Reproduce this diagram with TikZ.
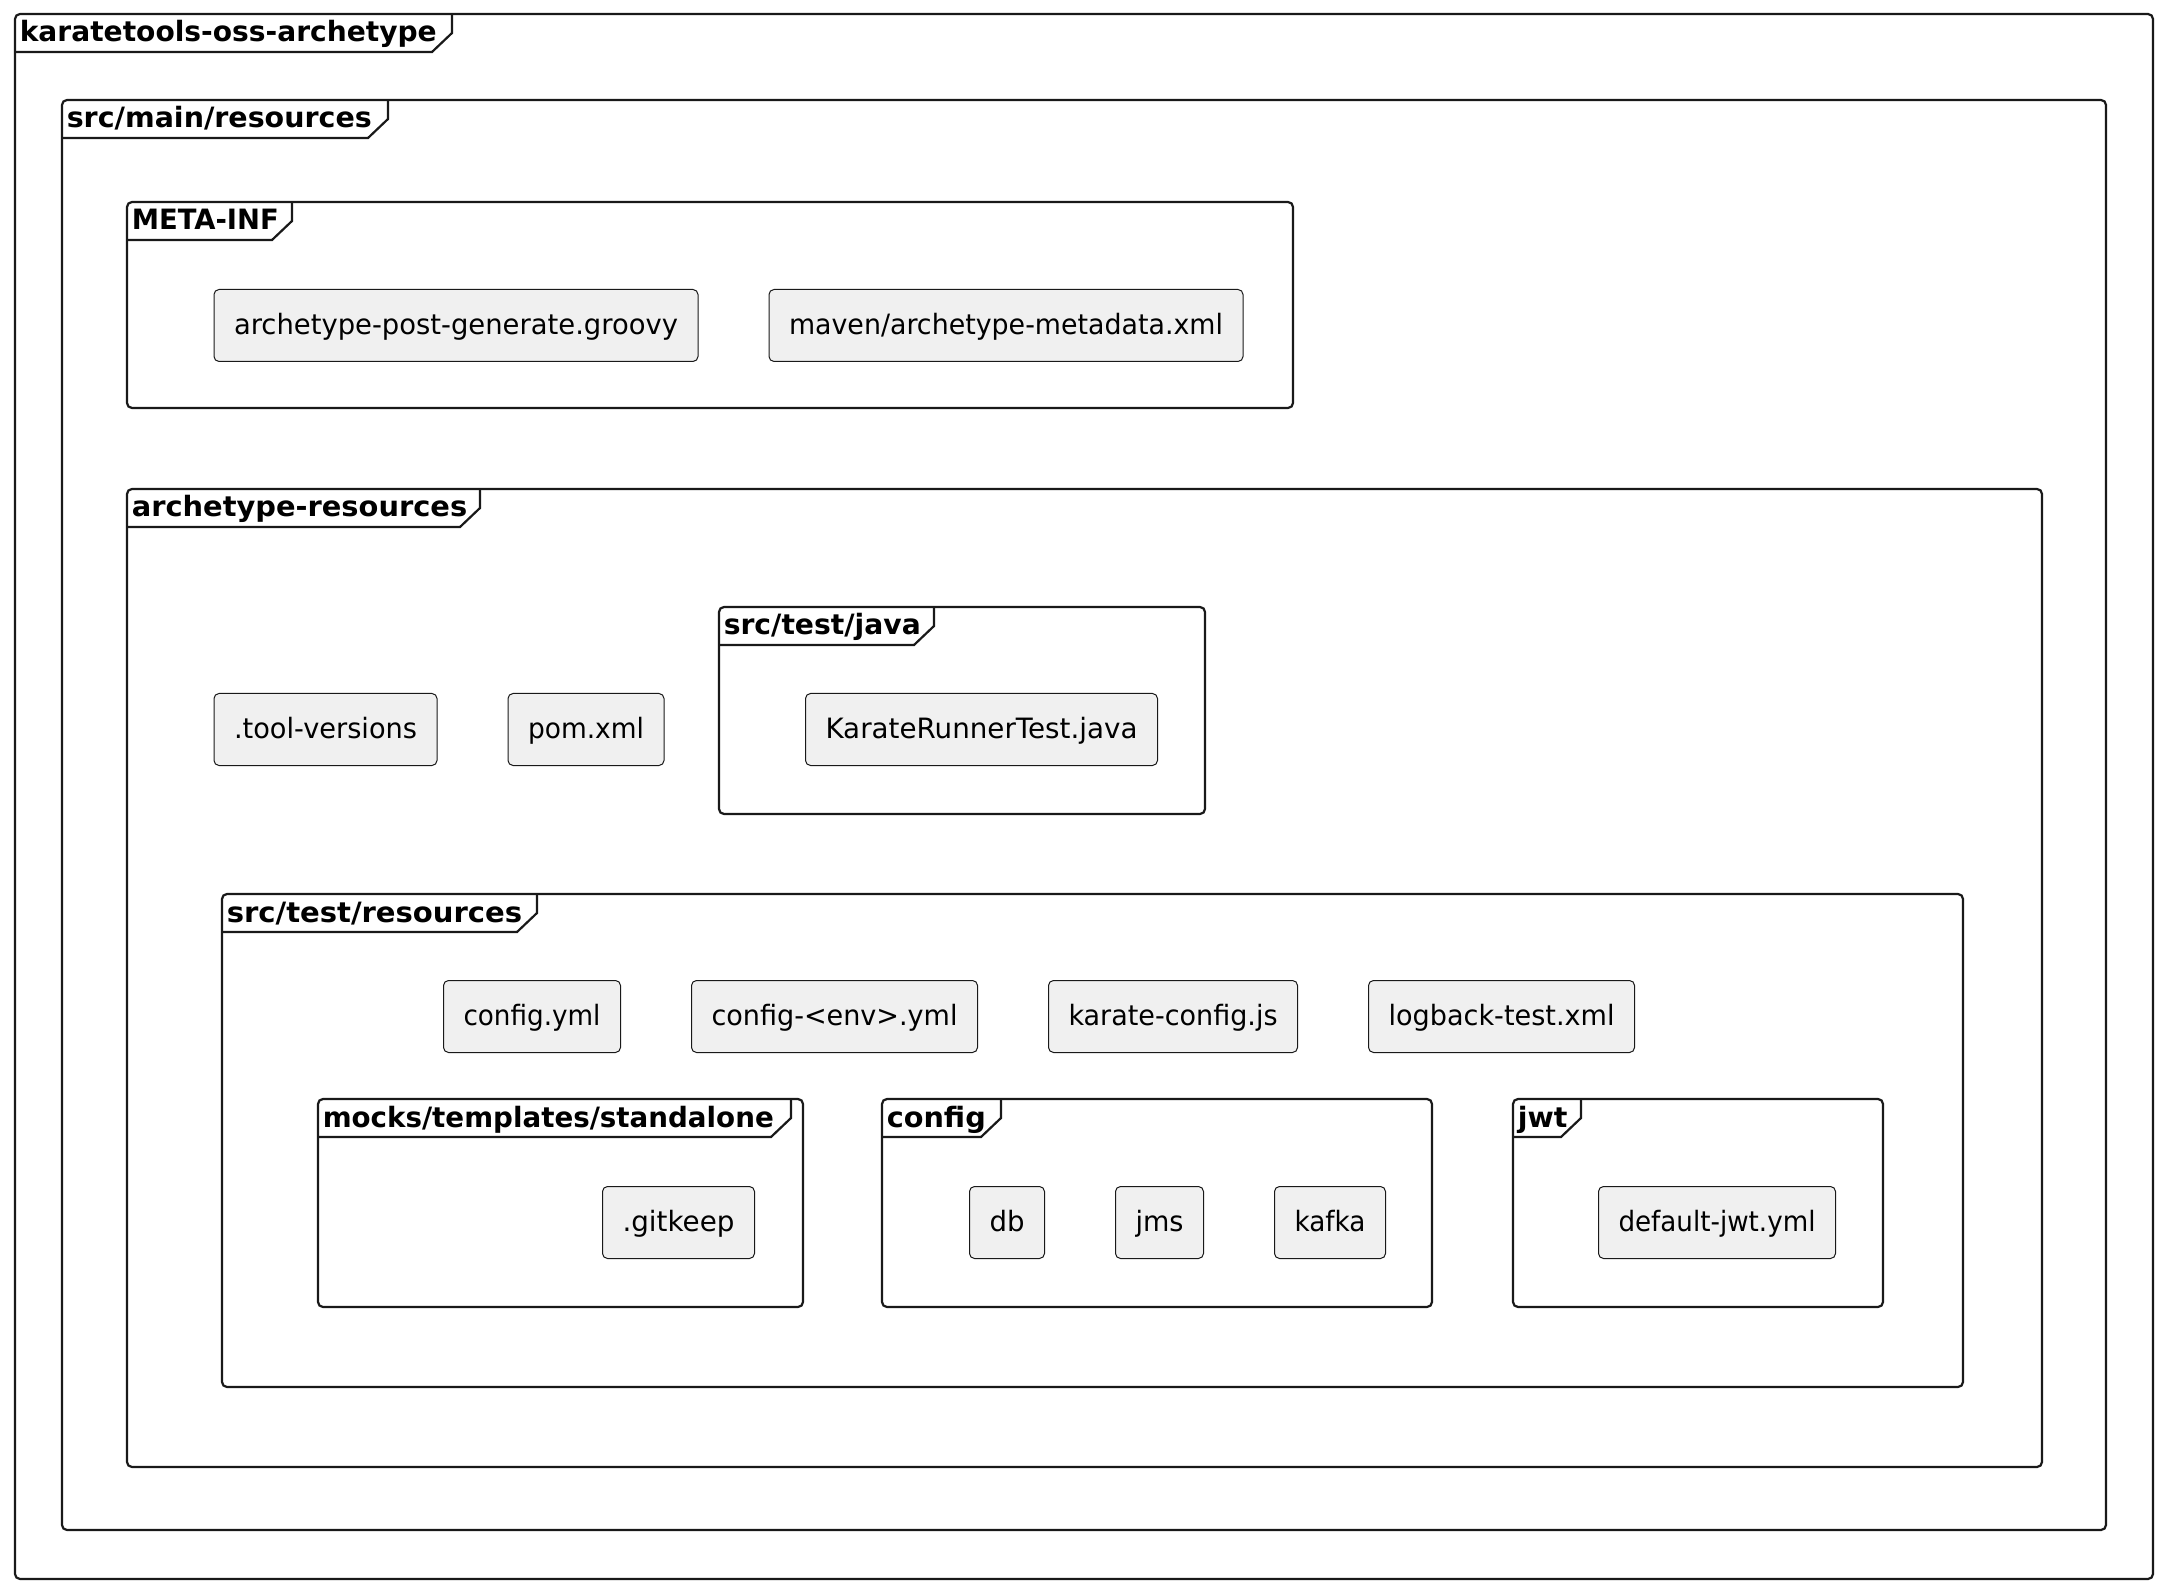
\documentclass[tikz,border=0pt]{standalone}
\usepackage{fontspec}
\setmainfont{DejaVu Sans}
\usepackage{graphicx}
\usepackage{tikz}
\usetikzlibrary{positioning}
\tikzset{
    x=0.5pt, y=-0.5pt, % one unit is one pixel of the reference, y runs downwards
    node distance=35pt,
    filebox/.style={draw=black!90, line width=0.5pt, fill=black!6, rounded corners=2.5pt, inner xsep=10pt, inner ysep=0pt, minimum height=36pt, text height=12pt, text depth=3pt, font=\fontsize{14}{16}\selectfont},
    framebox/.style={draw=black!90, line width=1.1pt, rounded corners=2.5pt},
    frametab/.style={draw=black!90, line width=1.1pt},
    frametitle/.style={inner sep=0pt, anchor=base west, font=\fontsize{14}{16}\selectfont\bfseries},
}
\newcommand{\txtw}[2]{\resizebox{#1}{\height}{#2}}
\newcommand{\pkgframe}[8]{%
    \draw[framebox] (#2,#3) rectangle (#4,#5);
    \coordinate (#1 corner) at (#2,#3);
    \coordinate (#1 tab) at (#6,#3);
    \node[frametitle] (#1) at ([xshift=2.2pt, yshift=-14pt]#1 corner) {\txtw{#7}{#8}};
    \draw[frametab] (#1 tab) -- ++(0,-9.5pt) -- ++(-10pt,-9.5pt) -- ([yshift=-19pt]#1 corner);
}

\begin{document}
\begin{tikzpicture}
    \useasboundingbox (0,0) rectangle (2164,1588);
    \pkgframe{karatetools}{15}{14}{2153}{1579}{452}{208.5pt}{karatetools-oss-archetype}
    \pkgframe{srcmain}{62}{100}{2106}{1530}{388}{152.5pt}{src/main/resources}
    \pkgframe{metainf}{127}{202}{1293}{408}{292}{73.5pt}{META-INF}
    \pkgframe{archres}{127}{489}{2042}{1467}{480}{167.7pt}{archetype-resources}
    \pkgframe{srcjava}{719}{607}{1205}{814}{934}{98.5pt}{src/test/java}
    \pkgframe{srcres}{222}{894}{1963}{1387}{537}{147.7pt}{src/test/resources}
    \pkgframe{mocks}{318}{1099}{803}{1307}{791}{225.5pt}{mocks/templates/standalone}
    \pkgframe{configdir}{882}{1099}{1432}{1307}{1001}{49.5pt}{config}
    \pkgframe{jwtdir}{1513}{1099}{1883}{1307}{1581}{24.8pt}{jwt}

    \node[filebox, anchor=north west] (postgen) at (213.5,289) {\txtw{222pt}{archetype-post-generate.groovy}};
    \node[filebox, right=of postgen] (metadata) {\txtw{217pt}{maven/archetype-metadata.xml}};

    \node[filebox, anchor=north west] (toolversions) at (213.5,693) {\txtw{91.5pt}{.tool-versions}};
    \node[filebox, right=of toolversions] (pom) {\txtw{58pt}{pom.xml}};
    \node[filebox, anchor=north west] (runner) at (805,693) {\txtw{156pt}{KarateRunnerTest.java}};

    \node[filebox, anchor=north west] (configyml) at (443,980) {\txtw{68.5pt}{config.yml}};
    \node[filebox, right=of configyml] (configenv) {\txtw{123pt}{config-<env>.yml}};
    \node[filebox, right=of configenv] (karateconfig) {\txtw{104.5pt}{karate-config.js}};
    \node[filebox, right=of karateconfig] (logback) {\txtw{113pt}{logback-test.xml}};

    \node[filebox, anchor=north west] (gitkeep) at (602,1186) {\txtw{56pt}{.gitkeep}};
    \node[filebox, anchor=north west] (db) at (969,1186) {\txtw{17.5pt}{db}};
    \node[filebox, right=of db] (jms) {\txtw{24pt}{jms}};
    \node[filebox, right=of jms] (kafka) {\txtw{35.5pt}{kafka}};
    \node[filebox, anchor=north west] (defaultjwt) at (1598,1186) {\txtw{98.5pt}{default-jwt.yml}};
\end{tikzpicture}
\end{document}
